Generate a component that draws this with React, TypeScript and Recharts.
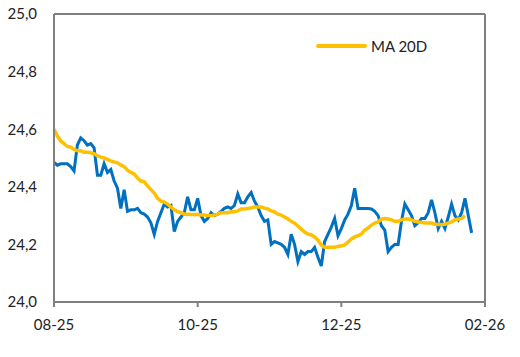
import { CartesianGrid, Line, LineChart, XAxis, YAxis } from 'recharts';

const BLUE = '#0070C0';
const GOLD = '#FFC000';
const GRID = '#808080';
const TEXT = '#222222';
const FONT = 'Lato, "Open Sans", sans-serif';

// x labels on the date axis (months, MM-YY)
const TICK_POS = [0, 43, 86, 129];
const TICK_LABELS = ['08-25', '10-25', '12-25', '02-26'];
const Y_TICKS = [24.0, 24.2, 24.4, 24.6, 24.8, 25.0];

// daily close
const PRICE = [
  24.485, 24.475, 24.48, 24.48, 24.48, 24.47, 24.455, 24.545, 24.57, 24.56,
  24.545, 24.55, 24.535, 24.44, 24.44, 24.48, 24.45, 24.46, 24.42, 24.395,
  24.325, 24.39, 24.315, 24.32, 24.32, 24.325, 24.31, 24.305, 24.295, 24.275,
  24.235, 24.28, 24.31, 24.34, 24.33, 24.335, 24.245, 24.28, 24.295, 24.31,
  24.365, 24.32, 24.32, 24.36, 24.3, 24.28, 24.29, 24.31, 24.3, 24.305,
  24.315, 24.325, 24.33, 24.325, 24.335, 24.375, 24.345, 24.345, 24.365, 24.38,
  24.35, 24.33, 24.3, 24.28, 24.285, 24.2, 24.21, 24.205, 24.2, 24.19,
  24.165, 24.235, 24.2, 24.14, 24.175, 24.165, 24.175, 24.175, 24.19, 24.155,
  24.125, 24.21, 24.235, 24.26, 24.29, 24.23, 24.255, 24.285, 24.305, 24.335,
  24.395, 24.325, 24.325, 24.325, 24.325, 24.323, 24.315, 24.3, 24.265, 24.25,
  24.175, 24.19, 24.2, 24.2, 24.28, 24.34, 24.32, 24.3, 24.265, 24.275,
  24.29, 24.29, 24.31, 24.355, 24.31, 24.255, 24.28, 24.255, 24.295, 24.34,
  24.3, 24.285, 24.31, 24.36, 24.3, 24.24,
];

// 20-day moving average
const MA20 = [
  24.6, 24.576, 24.56, 24.55, 24.54, 24.538, 24.53, 24.525, 24.525, 24.52,
  24.52, 24.518, 24.515, 24.507, 24.503, 24.5, 24.495, 24.49, 24.486, 24.483,
  24.476, 24.47, 24.458, 24.45, 24.445, 24.43, 24.42, 24.417, 24.403, 24.39,
  24.378, 24.36, 24.35, 24.347, 24.34, 24.33, 24.32, 24.314, 24.31, 24.305,
  24.305, 24.304, 24.304, 24.304, 24.302, 24.302, 24.3, 24.3, 24.302, 24.305,
  24.31, 24.31, 24.31, 24.313, 24.313, 24.316, 24.323, 24.323, 24.325, 24.326,
  24.33, 24.33, 24.33, 24.326, 24.323, 24.316, 24.313, 24.305, 24.302, 24.295,
  24.288, 24.28, 24.274, 24.264, 24.253, 24.243, 24.236, 24.233, 24.226, 24.215,
  24.198, 24.19, 24.19, 24.19, 24.19, 24.193, 24.195, 24.198, 24.208, 24.219,
  24.226, 24.23, 24.236, 24.25, 24.257, 24.267, 24.274, 24.278, 24.288, 24.29,
  24.288, 24.285, 24.28, 24.28, 24.285, 24.288, 24.288, 24.285, 24.28, 24.278,
  24.276, 24.274, 24.274, 24.274, 24.27, 24.269, 24.269, 24.27, 24.274, 24.278,
  24.285, 24.288, 24.29, 24.3, null, null,
];

const data = PRICE.map((p, i) => ({ i, price: p, ma: MA20[i] }));

function MaLegend(): JSX.Element {
  return (
    <div
      style={{
        position: 'absolute',
        left: 316,
        top: 37,
        display: 'flex',
        alignItems: 'center',
        fontFamily: FONT,
        fontSize: 15,
        color: TEXT,
        whiteSpace: 'nowrap',
      }}
    >
      <span style={{ display: 'inline-block', width: 51, height: 4, borderRadius: 2, background: GOLD, marginRight: 4 }} />
      <span>MA 20D</span>
    </div>
  );
}

export default function App(): JSX.Element {
  return (
    <div style={{ position: 'absolute', left: 0, top: 0, width: 520, height: 357, background: '#fff' }}>
      <LineChart width={520} height={357} data={data} margin={{ top: 14, right: 0, bottom: 0, left: 0 }}>
        <CartesianGrid horizontal vertical={false} stroke={GRID} strokeWidth={2} />
        <XAxis
          dataKey="i"
          type="number"
          domain={[0, 129]}
          ticks={TICK_POS}
          tickFormatter={(v: number) => TICK_LABELS[TICK_POS.indexOf(v)] ?? ''}
          height={55}
          stroke={GRID}
          strokeWidth={2}
          tickSize={5}
          tickMargin={12}
          tick={{ fill: TEXT, fontSize: 15, fontFamily: FONT }}
        />
        <YAxis
          yAxisId="left"
          domain={[24, 25]}
          ticks={Y_TICKS}
          width={54}
          stroke={GRID}
          strokeWidth={2}
          tickLine={false}
          tickSize={0}
          tickMargin={17}
          tickFormatter={(v: number) => v.toFixed(1).replace('.', ',')}
          tick={{ fill: TEXT, fontSize: 15, fontFamily: FONT }}
        />
        <YAxis
          yAxisId="right"
          orientation="right"
          domain={[24, 25]}
          width={35}
          stroke={GRID}
          strokeWidth={2}
          tick={false}
          tickLine={false}
        />
        <Line
          yAxisId="left"
          type="linear"
          dataKey="price"
          stroke={BLUE}
          strokeWidth={3}
          dot={false}
          isAnimationActive={false}
        />
        <Line
          yAxisId="left"
          type="linear"
          dataKey="ma"
          name="MA 20D"
          stroke={GOLD}
          strokeWidth={3.5}
          dot={false}
          isAnimationActive={false}
        />
      </LineChart>
      <MaLegend />
    </div>
  );
}
